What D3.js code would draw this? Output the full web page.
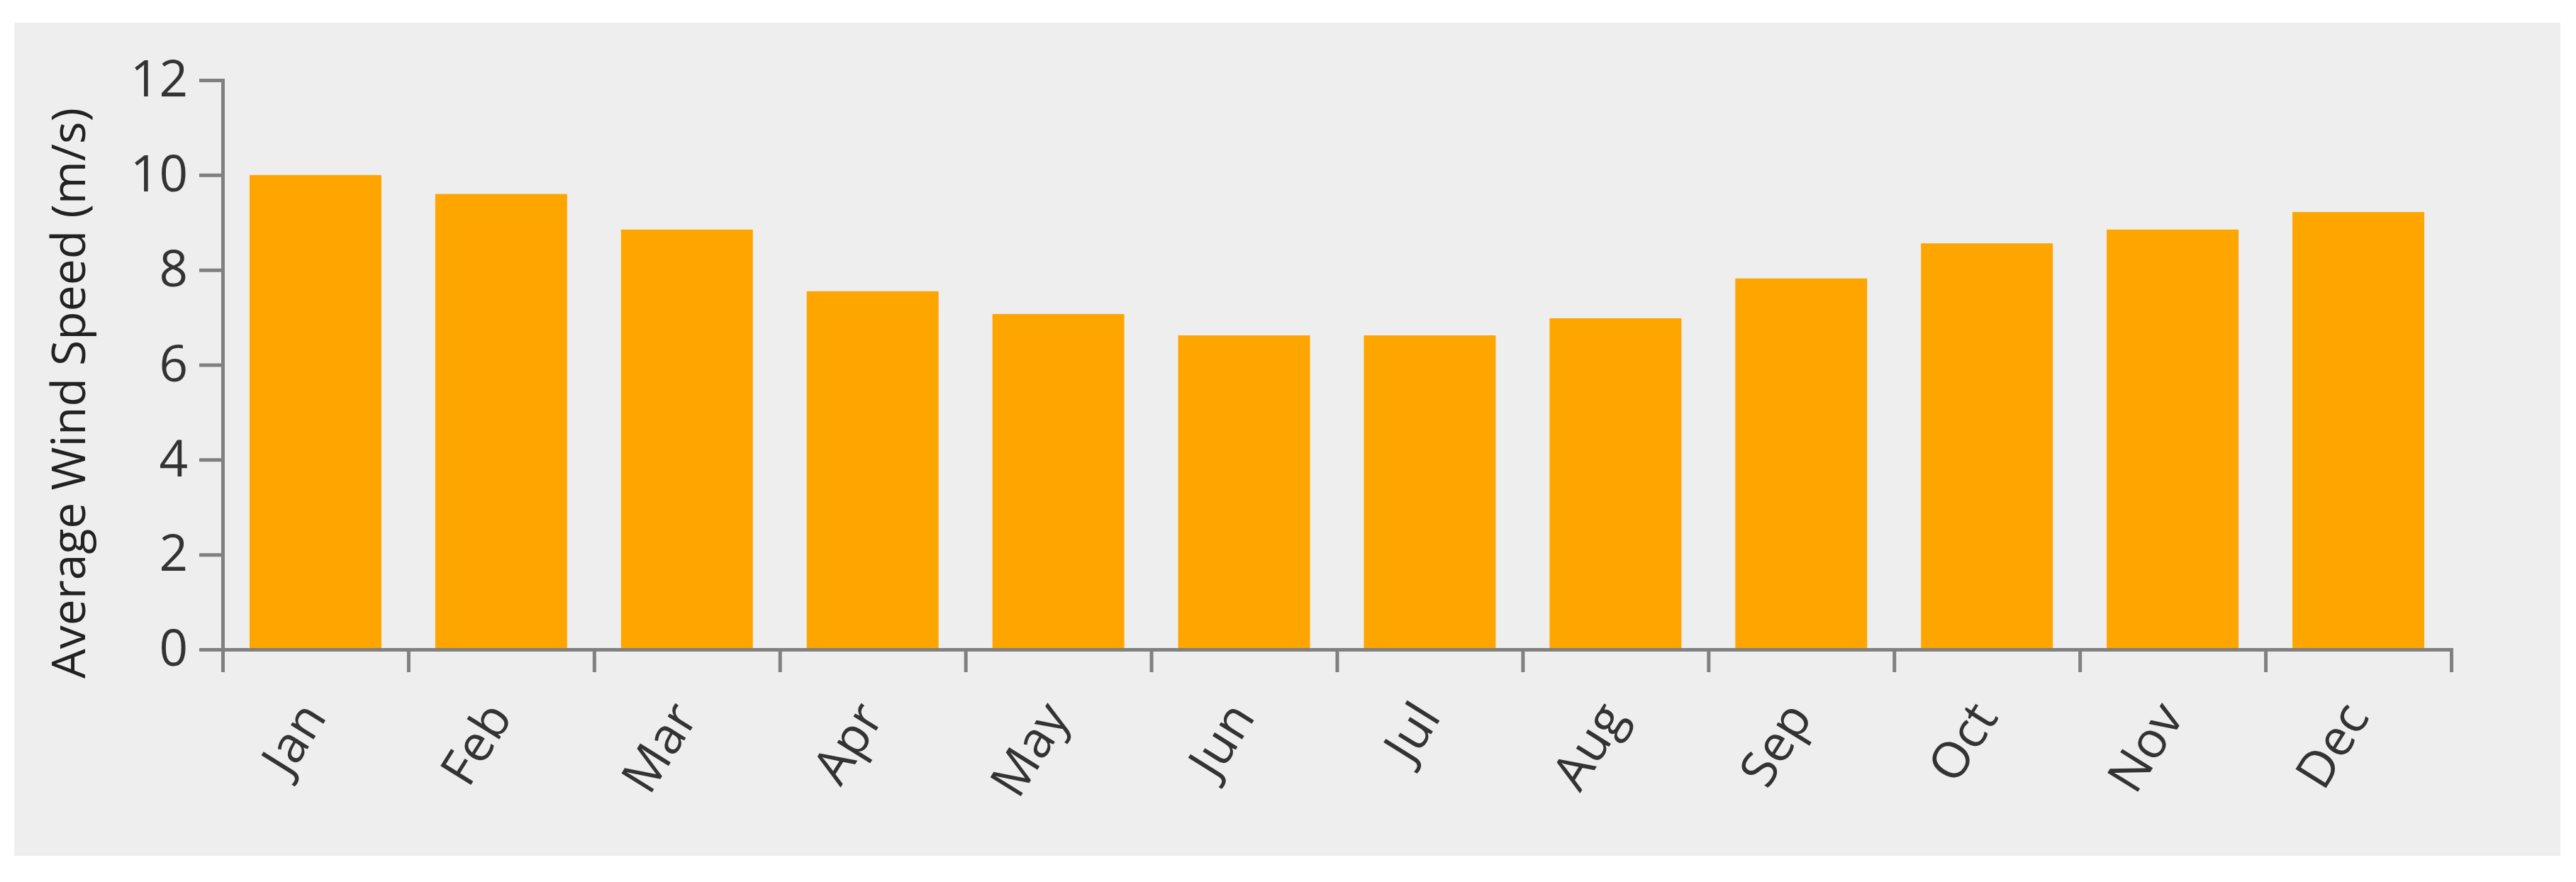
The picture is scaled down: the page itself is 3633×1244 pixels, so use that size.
<!DOCTYPE html>
<html>
<head>
<meta charset="utf-8">
<script src="https://cdn.jsdelivr.net/npm/d3@7"></script>
<style>
  body { margin: 0; background: #fff; }
  svg { display: block; }
  .axis path, .axis line { stroke: #808080; stroke-width: 5; }
  .axis text { font-family: "Open Sans", sans-serif; font-size: 71px; fill: #333; }
</style>
</head>
<body>
<svg id="chart"></svg>
<script>
var months = ["Jan", "Feb", "Mar", "Apr", "May", "Jun", "Jul", "Aug", "Sep", "Oct", "Nov", "Dec"];
var windSpeed = [10.0, 9.6, 8.85, 7.55, 7.07, 6.62, 6.62, 6.98, 7.82, 8.56, 8.85, 9.22];
var yTicks = [0, 2, 4, 6, 8, 10, 12];
var yTitle = "Average Wind Speed (m/s)";

var w = 3633;
var h = 1244;
var margin = {top: 113, right: 176, bottom: 328, left: 314};

var svg = d3.select("#chart")
  .attr("width", w)
  .attr("height", h);

// grey panel behind the chart
svg.append("rect")
  .attr("x", 20)
  .attr("y", 32)
  .attr("width", 3591)
  .attr("height", 1175)
  .attr("fill", "#eeeeee");

var xScale = d3.scaleBand()
  .domain(months)
  .range([margin.left, w - margin.right])
  .paddingInner(0.29)
  .paddingOuter(0.145);

var yScale = d3.scaleLinear()
  .domain([0, 12])
  .range([h - margin.bottom, margin.top]);

svg.selectAll(".bar")
  .data(windSpeed)
  .enter()
  .append("rect")
    .attr("class", "bar")
    .attr("x", function (d, i) { return xScale(months[i]); })
    .attr("y", function (d) { return yScale(d); })
    .attr("width", xScale.bandwidth())
    .attr("height", function (d) { return yScale(0) - yScale(d); })
    .attr("fill", "#ffa500");

// x axis: ticks sit on the band edges, labels are placed by hand
var edgeScale = d3.scaleLinear()
  .domain([0, months.length])
  .range([margin.left, w - margin.right]);

var xAxis = d3.axisBottom(edgeScale)
  .tickValues(d3.range(months.length + 1))
  .tickSize(32)
  .tickSizeOuter(32)
  .tickFormat("");

svg.append("g")
  .attr("class", "axis axis--x")
  .attr("transform", "translate(0," + yScale(0) + ")")
  .call(xAxis);

svg.append("g")
  .attr("class", "axis axis--x-labels")
  .selectAll("text")
  .data(months)
  .enter()
  .append("text")
    .attr("text-anchor", "end")
    .attr("dy", "0.35em")
    .attr("transform", function (d) {
      var x = xScale(d) + xScale.bandwidth() / 2 - 4;
      var y = yScale(0) + 82;
      return "translate(" + x + "," + y + ") rotate(-58)";
    })
    .text(function (d) { return d; });

var yAxis = d3.axisLeft(yScale)
  .tickValues(yTicks)
  .tickSize(33)
  .tickSizeOuter(33)
  .tickPadding(16);

svg.append("g")
  .attr("class", "axis axis--y")
  .attr("transform", "translate(" + margin.left + ",0)")
  .call(yAxis);

svg.append("text")
  .attr("transform", "translate(97," + (yScale(6) + 40) + ") rotate(-90)")
  .attr("text-anchor", "middle")
  .attr("dy", "0.35em")
  .style("font-family", "\"Open Sans\", sans-serif")
  .style("font-size", "66px")
  .style("fill", "#222")
  .text(yTitle);
</script>
</body>
</html>
